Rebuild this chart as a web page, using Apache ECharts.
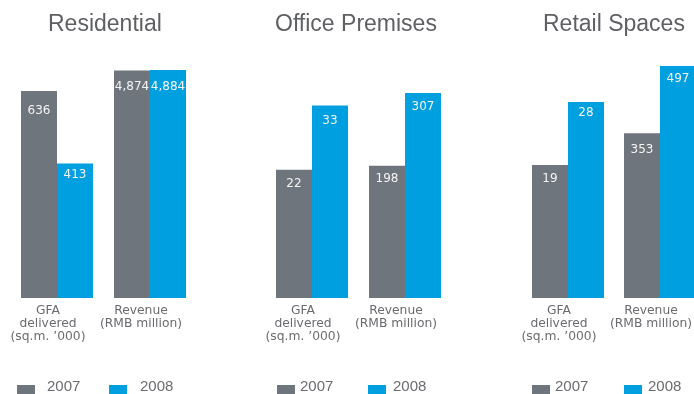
<!DOCTYPE html>
<html>
<head>
<meta charset="utf-8">
<script src="https://cdn.jsdelivr.net/npm/echarts@6/dist/echarts.min.js"></script>
<style>
  html, body { margin: 0; padding: 0; background: #ffffff; }
  #chart { width: 694px; height: 394px; }
</style>
</head>
<body>
<div id="chart"></div>
<script>
// Segment headings and the two measures shown under each heading
const panels = ['Residential', 'Office Premises', 'Retail Spaces'];
const metrics = ['GFA\ndelivered\n(sq.m. \u2019000)', 'Revenue\n(RMB million)'];
const years = ['2007', '2008'];

// Values by group: Residential GFA, Residential revenue, Office GFA, Office revenue, Retail GFA, Retail revenue
const values2007 = [636, 4874, 22, 198, 19, 353];
const values2008 = [413, 4884, 33, 307, 28, 497];

// ---- layout & styling ----
const COLORS = ['#6f757c', '#009fdf'];
const TEXT_GREY = '#6a6b6e';
const groupLeft = [21, 114, 276, 369, 532, 624];
// each bar pair has its own (hidden) value axis, all starting at zero
const axisMax = [731, 5098, 40.8, 356.4, 34.0, 509.9];
const labelDist = [
  [14, 10, 8, 7, 8, 11],
  [5, 11, 9, 8, 5, 7]
];
const titleLeft = [48, 275, 543];
const legendSpots = [
  { left: 17, name: '2007', pad: 7 },
  { left: 109, name: '2008', pad: 8 },
  { left: 277, name: '2007', pad: 0 },
  { left: 368, name: '2008', pad: 2 },
  { left: 532, name: '2007', pad: 0 },
  { left: 624, name: '2008', pad: 1 }
];

const GRID_TOP = 60, GRID_H = 238, PAIR_W = 72, BAR_W = 36;

const grid = [], xAxis = [], yAxis = [], series = [];
const yearValues = [values2007, values2008];

for (let i = 0; i < groupLeft.length; i++) {
  grid.push({
    left: groupLeft[i], top: GRID_TOP, width: PAIR_W, height: GRID_H,
    outerBoundsMode: 'none', containLabel: false
  });
  xAxis.push({
    gridIndex: i,
    type: 'category',
    data: [metrics[i % 2]],
    axisLine: { show: false },
    axisTick: { show: false },
    splitLine: { show: false },
    axisLabel: {
      margin: 6,
      formatter: v => v.split('\n').map(line => '{c|' + line + '}').join('\n'),
      rich: {
        c: {
          color: TEXT_GREY,
          fontFamily: 'DejaVu Sans',
          fontSize: 12.3,
          lineHeight: 13,
          padding: [0, 18, 0, 0]
        }
      }
    }
  });
  yAxis.push({
    gridIndex: i,
    type: 'value',
    show: false,
    min: 0,
    max: axisMax[i]
  });
  for (let y = 0; y < years.length; y++) {
    series.push({
      type: 'bar',
      name: years[y],
      xAxisIndex: i,
      yAxisIndex: i,
      data: [yearValues[y][i]],
      barWidth: BAR_W,
      barGap: '0%',
      barCategoryGap: '0%',
      itemStyle: { color: COLORS[y] },
      label: {
        show: true,
        position: 'insideTop',
        distance: labelDist[y][i],
        color: '#f4f4f4',
        fontFamily: 'DejaVu Sans',
        fontSize: 12,
        formatter: p => Number(p.value).toLocaleString('en-US')
      }
    });
  }
}

const title = panels.map((t, k) => ({
  text: t,
  left: titleLeft[k],
  top: 13,
  padding: 0,
  textStyle: {
    fontFamily: 'Liberation Sans',
    fontSize: 23,
    fontWeight: 'normal',
    color: '#5f6063'
  }
}));

// legend text sits a little above the centre of its swatch
const legend = legendSpots.map(s => ({
  data: [s.name],
  left: s.left,
  top: 379.5,
  padding: 0,
  icon: 'rect',
  itemWidth: 18,
  itemHeight: 12,
  selectedMode: false,
  formatter: '{t|{name}}',
  textStyle: {
    rich: {
      t: {
        fontFamily: 'Liberation Sans',
        fontSize: 15,
        color: TEXT_GREY,
        padding: [0, 0, 8, s.pad]
      }
    }
  }
}));

const chart = echarts.init(document.getElementById('chart'), null, { renderer: 'canvas' });
chart.setOption({
  animation: false,
  backgroundColor: '#ffffff',
  title,
  legend,
  grid,
  xAxis,
  yAxis,
  series
});
</script>
</body>
</html>
